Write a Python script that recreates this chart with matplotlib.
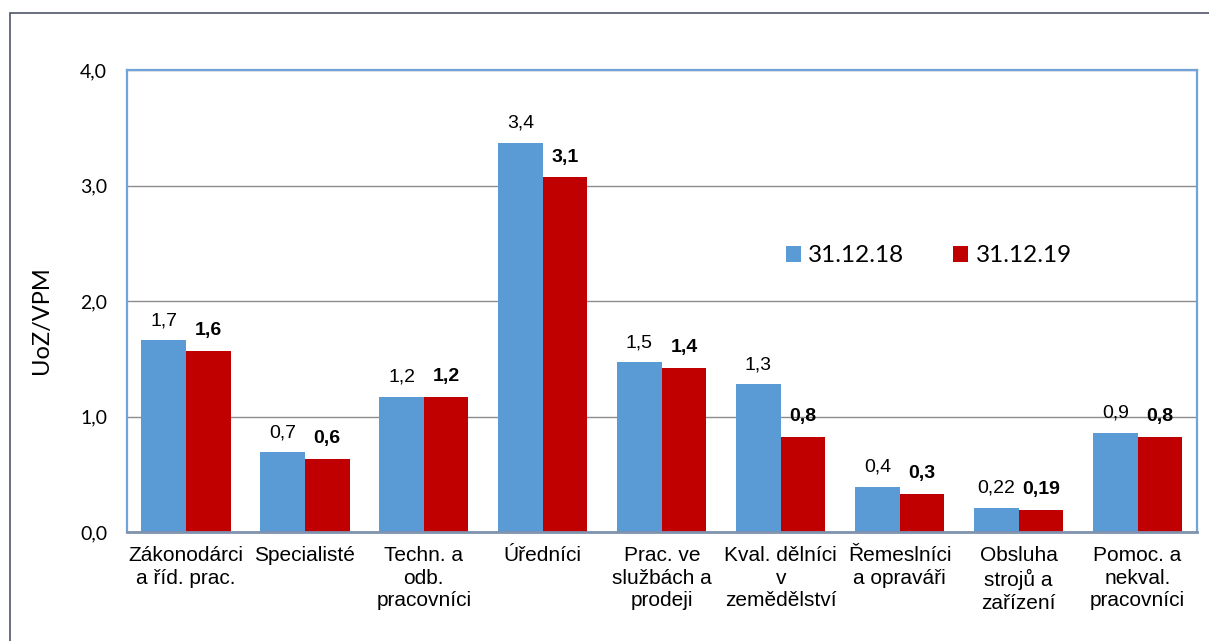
import numpy as np
import matplotlib.pyplot as plt
from matplotlib.patches import Rectangle

categories = ['Zákonodárci\na říd. prac.', 'Specialisté', 'Techn. a\nodb.\npracovníci',
              'Úředníci', 'Prac. ve\nslužbách a\nprodeji', 'Kval. dělníci\nv\nzemědělství',
              'Řemeslníci\na opraváři', 'Obsluha\nstrojů a\nzařízení', 'Pomoc. a\nnekval.\npracovníci']
v2018 = [1.66, 0.69, 1.17, 3.37, 1.47, 1.28, 0.39, 0.21, 0.86]
v2019 = [1.57, 0.63, 1.17, 3.07, 1.42, 0.82, 0.33, 0.19, 0.82]
lab2018 = ['1,7', '0,7', '1,2', '3,4', '1,5', '1,3', '0,4', '0,22', '0,9']
lab2019 = ['1,6', '0,6', '1,2', '3,1', '1,4', '0,8', '0,3', '0,19', '0,8']
series = ['31.12.18', '31.12.19']
yticks = [0.0, 1.0, 2.0, 3.0, 4.0]

BLUE = '#5B9BD5'
RED = '#C00000'
ARIAL = 'Liberation Sans'
CAL = 'Lato'

fig = plt.figure(figsize=(12.09, 6.41), dpi=100)
W, H = 1209, 641
ax = fig.add_axes([126.5 / W, 1 - 532 / H, (1197 - 126.5) / W, (532 - 70) / H])

# outer chart frame
fig.add_artist(Rectangle((10 / W, -0.1), 1.2, 1 - 13 / H + 0.1, transform=fig.transFigure,
                         fill=False, ec='#4F5668', lw=1.2))

x = np.arange(len(categories))
w = 0.375
ax.bar(x - w / 2, v2018, w, color=BLUE, label=series[0], zorder=2)
ax.bar(x + w / 2, v2019, w, color=RED, label=series[1], zorder=2)

for xi, v, s in zip(x - w / 2, v2018, lab2018):
    ax.annotate(s, (xi, v), xytext=(0, 8), textcoords='offset points', ha='center',
                va='bottom', fontsize=14, family=ARIAL)
for xi, v, s in zip(x + w / 2, v2019, lab2019):
    ax.annotate(s, (xi, v), xytext=(0, 8.5), textcoords='offset points', ha='center',
                va='bottom', fontsize=14, family=ARIAL, fontweight='bold')

ax.set_xlim(-0.5, len(categories) - 0.5)
ax.set_ylim(0, 4)
ax.set_yticks(yticks)
ax.set_yticklabels([f'{t:.1f}'.replace('.', ',') for t in yticks], fontsize=14, family=CAL)
ax.set_xticks(x)
ax.set_xticklabels(categories, fontsize=15, family=ARIAL, linespacing=1.25, va='top')
ax.tick_params(length=0)
ax.tick_params(axis='y', pad=14)
ax.tick_params(axis='x', pad=10)
ax.yaxis.grid(True, color='#8C8C8C', lw=1.0, zorder=0)
ax.set_axisbelow(True)
for s in ['left', 'top', 'right']:
    ax.spines[s].set_color('#6FA3D9')
    ax.spines[s].set_linewidth(1.6)
ax.spines['bottom'].set_color('#7F93AE')
ax.spines['bottom'].set_linewidth(2.0)
ax.set_ylabel('UoZ/VPM', fontsize=17, family=CAL)
ax.yaxis.set_label_coords(-0.0696, 0.459)

ax.legend(loc='center left', bbox_to_anchor=(786 / W, 1 - 256 / H),
          bbox_transform=fig.transFigure, ncol=2, frameon=False, borderpad=0,
          borderaxespad=0, prop={'family': CAL, 'size': 17.5}, handlelength=0.62,
          handleheight=0.62, handletextpad=0.3, columnspacing=2.0)

fig.savefig('out.png', dpi=100)
